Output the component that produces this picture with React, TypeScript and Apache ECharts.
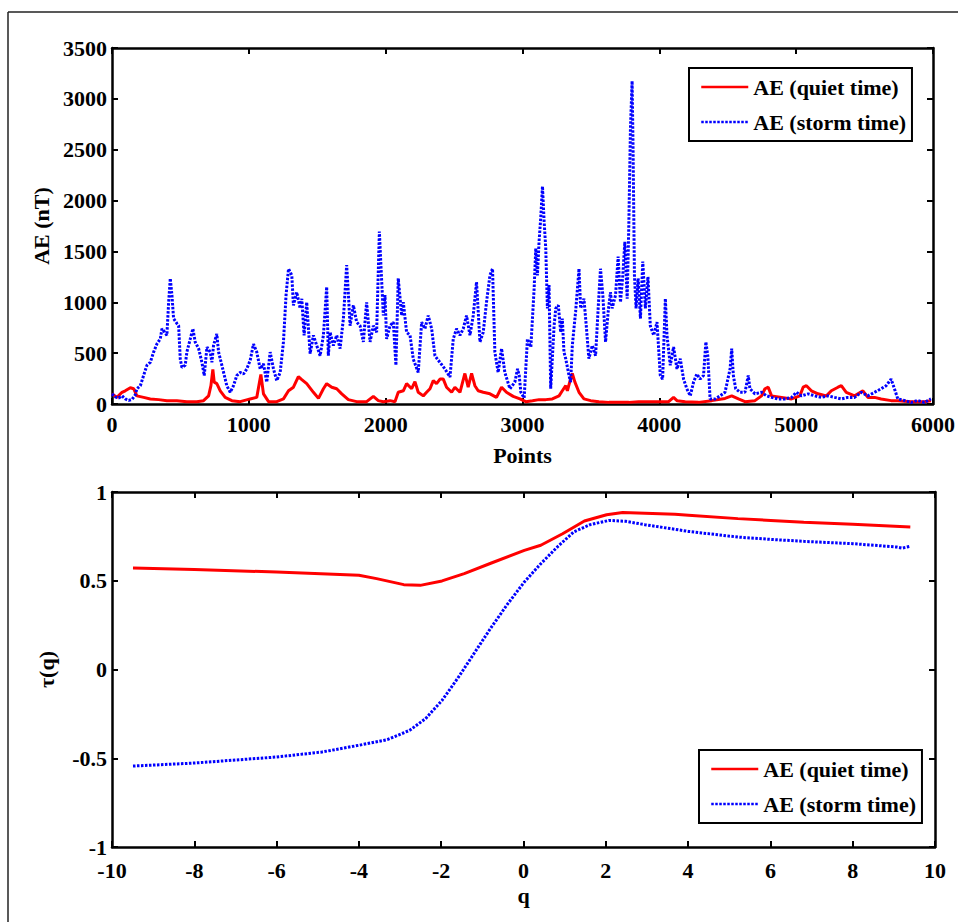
import React, { useEffect, useRef } from "react";
import * as echarts from "echarts";

// ---- Top panel: AE index time series (Points vs AE in nT) ----
const pointTicks = { min: 0, max: 6000, interval: 1000 };
const aeTicks = { min: 0, max: 3500, interval: 500 };

const aeQuiet: [number, number][] = [
  [0,100],[36,65],[73,115],[97,130],[134,160],[158,150],[182,80],[231,65],[280,50],[341,43],[401,33],[474,33],[547,23],[620,23],[669,33],[706,80],[723,180],[737,340],[747,215],[766,200],[791,130],[827,65],[876,33],[937,23],[1010,50],[1058,65],[1078,215],[1088,290],[1107,100],[1144,23],[1204,23],[1253,50],[1290,130],[1326,165],[1362,270],[1387,240],[1423,200],[1472,115],[1509,55],[1545,150],[1569,200],[1606,165],[1642,150],[1679,100],[1727,43],[1788,23],[1861,23],[1910,75],[1946,33],[1983,23],[2032,33],[2068,23],[2092,115],[2129,130],[2153,200],[2190,150],[2214,220],[2238,115],[2275,80],[2299,115],[2324,150],[2348,230],[2372,200],[2397,245],[2421,245],[2445,165],[2482,115],[2506,165],[2543,115],[2579,300],[2603,165],[2628,300],[2652,180],[2676,130],[2713,115],[2762,100],[2810,65],[2847,165],[2883,115],[2932,75],[2981,50],[3024,23],[3073,33],[3121,43],[3170,43],[3218,50],[3267,80],[3291,130],[3316,180],[3328,130],[3345,215],[3364,300],[3383,215],[3413,115],[3449,50],[3498,33],[3558,23],[3631,16],[3704,16],[3777,16],[3849,23],[3922,23],[3995,23],[4068,23],[4104,65],[4129,33],[4189,23],[4286,16],[4383,33],[4480,55],[4529,80],[4578,50],[4626,23],[4699,33],[4747,80],[4772,150],[4796,165],[4820,80],[4893,65],[4966,50],[5027,80],[5051,165],[5075,180],[5111,130],[5160,100],[5221,80],[5257,130],[5306,165],[5330,180],[5366,115],[5427,80],[5488,130],[5524,65],[5573,65],[5621,50],[5694,33],[5743,33],[5840,23],[5937,23],[5985,33]
];

const aeStorm: [number, number][] = [
  [0,100],[24,70],[49,60],[73,80],[97,50],[122,35],[146,45],[170,90],[182,150],[207,180],[231,280],[255,380],[280,410],[304,510],[328,590],[353,640],[365,740],[389,700],[401,675],[414,1000],[426,1235],[438,1070],[450,840],[475,790],[487,770],[499,440],[511,360],[535,380],[547,510],[572,640],[591,740],[608,610],[633,545],[657,410],[674,280],[694,560],[718,510],[730,410],[742,575],[766,690],[779,510],[803,380],[839,180],[864,115],[888,180],[912,280],[937,310],[961,295],[985,345],[1010,430],[1034,590],[1058,510],[1083,345],[1107,395],[1131,215],[1156,510],[1180,345],[1204,230],[1229,310],[1253,610],[1272,1070],[1290,1330],[1314,1265],[1326,970],[1350,1100],[1375,940],[1387,1035],[1404,675],[1423,1000],[1448,495],[1472,675],[1496,575],[1521,475],[1545,675],[1569,1150],[1581,475],[1594,705],[1618,575],[1642,675],[1667,545],[1691,840],[1715,1365],[1728,1070],[1740,770],[1764,970],[1788,805],[1813,770],[1837,610],[1861,1000],[1886,610],[1910,770],[1934,705],[1954,1695],[1964,1400],[1983,870],[1995,1070],[2007,640],[2032,770],[2056,805],[2075,380],[2092,1235],[2117,870],[2129,1000],[2153,705],[2178,675],[2202,440],[2238,310],[2263,805],[2287,740],[2311,870],[2336,740],[2360,475],[2396,410],[2433,345],[2470,265],[2494,640],[2518,740],[2543,675],[2567,740],[2591,870],[2616,675],[2640,870],[2664,1200],[2689,610],[2713,705],[2737,1000],[2762,1265],[2781,1330],[2798,510],[2822,310],[2847,545],[2871,310],[2908,150],[2944,215],
  [2964,345],[2976,280],[2988,115],[3012,60],[3036,640],[3061,560],[3085,1135],[3097,1530],[3109,1265],[3121,1595],[3133,1825],[3146,2140],[3158,1795],[3170,1530],[3182,940],[3194,1170],[3206,150],[3231,770],[3243,940],[3262,970],[3279,705],[3291,840],[3303,510],[3316,445],[3340,280],[3352,215],[3364,575],[3388,905],[3413,1330],[3425,940],[3449,1035],[3466,770],[3485,445],[3510,575],[3534,475],[3553,940],[3570,1330],[3587,1070],[3607,610],[3626,905],[3643,1100],[3655,940],[3680,1070],[3699,1450],[3716,1000],[3733,1265],[3748,1595],[3765,1035],[3777,1760],[3789,2715],[3801,3175],[3808,2515],[3818,1265],[3830,940],[3845,1235],[3862,840],[3879,1400],[3898,940],[3917,1250],[3934,770],[3959,675],[3983,805],[4007,280],[4024,245],[4044,1035],[4056,675],[4080,380],[4104,560],[4129,345],[4153,445],[4177,245],[4201,150],[4226,80],[4250,215],[4274,295],[4298,245],[4323,280],[4340,610],[4354,475],[4371,50],[4408,50],[4444,80],[4480,115],[4517,345],[4529,545],[4541,280],[4558,150],[4590,115],[4626,115],[4650,280],[4662,150],[4699,100],[4747,115],[4784,80],[4820,65],[4869,50],[4917,50],[4966,65],[5002,115],[5039,80],[5087,100],[5136,80],[5184,65],[5233,80],[5281,65],[5330,50],[5378,65],[5427,65],[5476,115],[5524,80],[5573,115],[5621,150],[5658,180],[5694,245],[5718,150],[5743,50],[5791,35],[5840,15],[5888,35],[5937,15],[5985,50]
];

// ---- Bottom panel: tau(q) vs q ----
const qTicks = { min: -10, max: 10, interval: 2 };
const tauTicks = { min: -1, max: 1, interval: 0.5 };

const tauQuiet: [number, number][] = [
  [-9.49,0.572],[-8,0.564],[-6,0.549],[-4,0.531],[-3.57,0.512],[-2.91,0.478],[-2.51,0.474],[-1.98,0.499],[-1.44,0.54],[-0.78,0.6],[0.02,0.671],[0.42,0.7],[0.95,0.765],[1.48,0.837],[2.02,0.872],[2.41,0.884],[2.95,0.88],[3.68,0.874],[4.01,0.869],[5.21,0.85],[6.01,0.84],[6.81,0.829],[8,0.818],[9.4,0.803]
];

const tauStorm: [number, number][] = [
  [-9.49,-0.544],[-8,-0.527],[-6,-0.493],[-4.9,-0.465],[-4,-0.427],[-3.31,-0.395],[-2.77,-0.343],[-2.38,-0.277],[-1.98,-0.174],[-1.58,-0.043],[-1.18,0.098],[-0.78,0.239],[-0.38,0.371],[0.02,0.493],[0.42,0.596],[0.82,0.69],[1.22,0.775],[1.62,0.816],[2.08,0.84],[2.48,0.835],[2.95,0.816],[4.01,0.778],[5.21,0.746],[6.01,0.733],[6.81,0.722],[8,0.709],[9.07,0.69],[9.2,0.684],[9.4,0.694]
];

const seriesNames = ["AE (quiet time)", "AE (storm time)"];

const FONT = "Liberation Serif";
const RED = "#ff0000";
const BLUE = "#0000ff";

export default function App() {
  const ref = useRef<HTMLDivElement>(null);

  useEffect(() => {
    if (!ref.current) return;
    const chart = echarts.init(ref.current, null, { renderer: "svg" });

    const label = { color: "#000", fontFamily: FONT, fontWeight: "bold" as const, fontSize: 22 };
    const axisLine = { show: true, onZero: false, lineStyle: { color: "#000", width: 2.5 } };
    const axisTick = { show: true, inside: true, length: 6, lineStyle: { color: "#000", width: 2 } };
    const nameStyle = { color: "#000", fontFamily: FONT, fontWeight: "bold" as const, fontSize: 22 };
    const plain = (v: number) => String(v);

    const mkX = (grid: number, t: any, pos: "bottom" | "top", name?: string, gap?: number, margin = 9) => ({
      type: "value",
      gridIndex: grid,
      position: pos,
      min: t.min,
      max: t.max,
      interval: t.interval,
      axisLine,
      axisTick,
      splitLine: { show: false },
      axisLabel: pos === "bottom" ? { ...label, margin, formatter: plain } : { show: false },
      name: name,
      nameLocation: "middle",
      nameGap: gap,
      nameTextStyle: nameStyle,
    });
    const mkY = (grid: number, t: any, pos: "left" | "right", name?: string, gap?: number) => ({
      type: "value",
      gridIndex: grid,
      position: pos,
      min: t.min,
      max: t.max,
      interval: t.interval,
      axisLine,
      axisTick,
      splitLine: { show: false },
      axisLabel: pos === "left" ? { ...label, margin: 5, lineHeight: 14, formatter: plain } : { show: false },
      name: name,
      nameLocation: "middle",
      nameGap: gap,
      nameTextStyle: nameStyle,
    });

    const legendBase = {
      orient: "vertical",
      data: seriesNames,
      backgroundColor: "#fff",
      borderColor: "#000",
      borderWidth: 2,
      borderRadius: 0,
      padding: [8, 6, 8, 11],
      itemWidth: 47,
      itemHeight: 14,
      itemGap: 13,
      itemStyle: { opacity: 0 },
      lineStyle: { width: 2.5 },
      textStyle: { ...label, lineHeight: 22 },
    };

    const quietStyle = { color: RED, width: 3, type: "solid" as const };
    const stormStyle = { color: BLUE, width: 3, type: [2.5, 1.5] as any };

    chart.setOption({
      animation: false,
      backgroundColor: "#fff",
      grid: [
        { left: 112, top: 48, width: 823, height: 356 },
        { left: 112, top: 492, width: 823, height: 355 },
      ],
      xAxis: [
        mkX(0, pointTicks, "bottom", "Points", 40),
        mkX(0, pointTicks, "top"),
        mkX(1, qTicks, "bottom", "q", 37, 12),
        mkX(1, qTicks, "top"),
      ],
      yAxis: [
        mkY(0, aeTicks, "left", "AE (nT)", 54),
        mkY(0, aeTicks, "right"),
        mkY(1, tauTicks, "left", "τ(q)", 55),
        mkY(1, tauTicks, "right"),
      ],
      legend: [
        { ...legendBase, left: 689, top: 68 },
        { ...legendBase, left: 699, top: 750 },
      ],
      series: [
        {
          name: seriesNames[0], type: "line", xAxisIndex: 0, yAxisIndex: 0,
          data: aeQuiet, showSymbol: false, symbol: "none", lineStyle: quietStyle, itemStyle: { color: RED }, z: 2,
        },
        {
          name: seriesNames[1], type: "line", xAxisIndex: 0, yAxisIndex: 0,
          data: aeStorm, showSymbol: false, symbol: "none", lineStyle: stormStyle, itemStyle: { color: BLUE }, z: 3,
        },
        {
          name: seriesNames[0], type: "line", xAxisIndex: 2, yAxisIndex: 2,
          data: tauQuiet, showSymbol: false, symbol: "none", lineStyle: quietStyle, itemStyle: { color: RED }, z: 2,
        },
        {
          name: seriesNames[1], type: "line", xAxisIndex: 2, yAxisIndex: 2,
          data: tauStorm, showSymbol: false, symbol: "none", lineStyle: stormStyle, itemStyle: { color: BLUE }, z: 3,
        },
      ],
      graphic: [
        { type: "line", shape: { x1: 8, y1: 12, x2: 958, y2: 12 }, style: { stroke: "#222", lineWidth: 1.5 }, silent: true },
        { type: "line", shape: { x1: 8, y1: 12, x2: 8, y2: 922 }, style: { stroke: "#222", lineWidth: 1.5 }, silent: true },
      ],
    });

    return () => chart.dispose();
  }, []);

  return (
    <div
      ref={ref}
      style={{ position: "absolute", left: 0, top: 0, width: 958, height: 922 }}
    />
  );
}
